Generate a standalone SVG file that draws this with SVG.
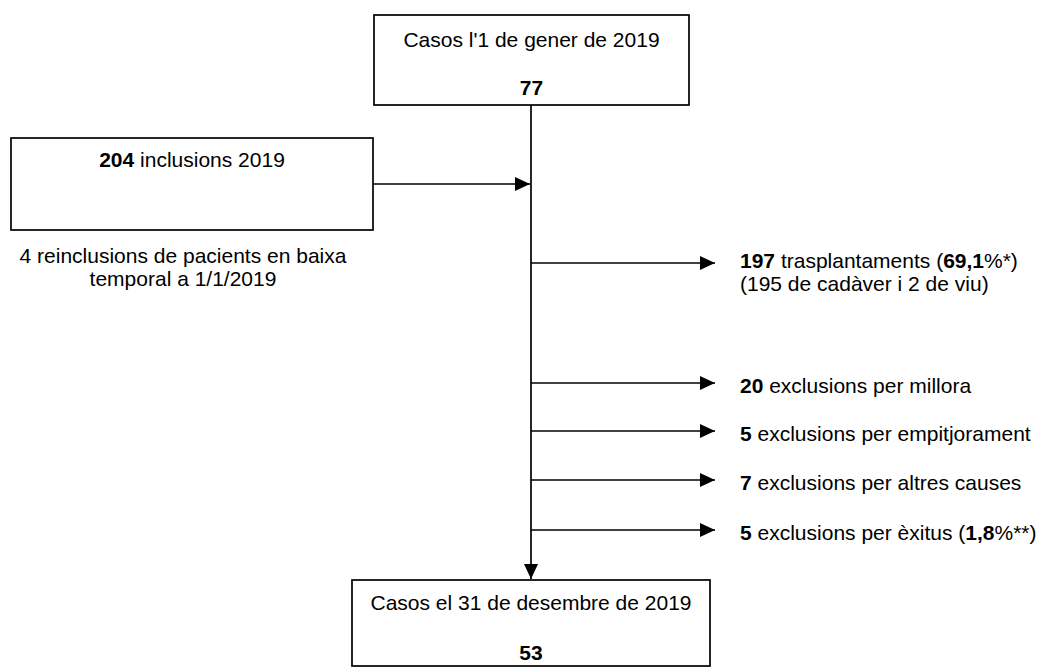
<svg xmlns="http://www.w3.org/2000/svg" width="1041" height="667" viewBox="0 0 1041 667">
<style>
.box{fill:#fff;stroke:#000;stroke-width:1.7}
.t{font-family:"Liberation Sans",Arial,sans-serif;font-size:21px;fill:#000}
.b{font-weight:bold}
.c{text-anchor:middle}
.ln{stroke:#000;stroke-width:1.7;fill:none;marker-end:url(#ah)}
</style>
<defs>
<marker id="ah" viewBox="0 0 15 14" refX="15" refY="7" markerWidth="15" markerHeight="14" orient="auto" markerUnits="userSpaceOnUse">
<path d="M0,0 L15,7 L0,14 z" fill="#000"/>
</marker>
</defs>
<rect width="1041" height="667" fill="#fff"/>
<g id="connectors">
<line class="ln" x1="531" y1="105" x2="531" y2="579"/>
<line class="ln" x1="373" y1="184" x2="530" y2="184"/>
<line class="ln" x1="531" y1="263" x2="715" y2="263"/>
<line class="ln" x1="531" y1="383" x2="715" y2="383"/>
<line class="ln" x1="531" y1="431" x2="715" y2="431"/>
<line class="ln" x1="531" y1="480" x2="715" y2="480"/>
<line class="ln" x1="531" y1="530" x2="715" y2="530"/>
</g>
<g id="start">
<rect class="box" x="374" y="15" width="315" height="90"/>
<text class="t c" x="531.5" y="47">Casos l'1 de gener de 2019</text>
<text class="t c b" x="531.5" y="95">77</text>
</g>
<g id="inclusions">
<rect class="box" x="11" y="138" width="362" height="92"/>
<text class="t c" x="192" y="167"><tspan class="b">204</tspan> inclusions 2019</text>
</g>
<g id="reinclusions">
<text class="t c" x="183" y="263">4 reinclusions de pacients en baixa</text>
<text class="t c" x="183" y="286">temporal a 1/1/2019</text>
</g>
<g id="trasplantaments">
<text class="t" x="740" y="268"><tspan class="b">197</tspan> trasplantaments (<tspan class="b">69,1</tspan>%*)</text>
<text class="t" x="740" y="291">(195 de cadàver i 2 de viu)</text>
</g>
<g id="millora">
<text class="t" x="740" y="393"><tspan class="b">20</tspan> exclusions per millora</text>
</g>
<g id="empitjorament">
<text class="t" x="740" y="441"><tspan class="b">5</tspan> exclusions per empitjorament</text>
</g>
<g id="altres">
<text class="t" x="740" y="490"><tspan class="b">7</tspan> exclusions per altres causes</text>
</g>
<g id="exitus">
<text class="t" x="740" y="540"><tspan class="b">5</tspan> exclusions per èxitus (<tspan class="b">1,8</tspan>%**)</text>
</g>
<g id="end">
<rect class="box" x="352" y="580" width="358" height="86"/>
<text class="t c" x="531" y="610">Casos el 31 de desembre de 2019</text>
<text class="t c b" x="531" y="660">53</text>
</g>
</svg>
